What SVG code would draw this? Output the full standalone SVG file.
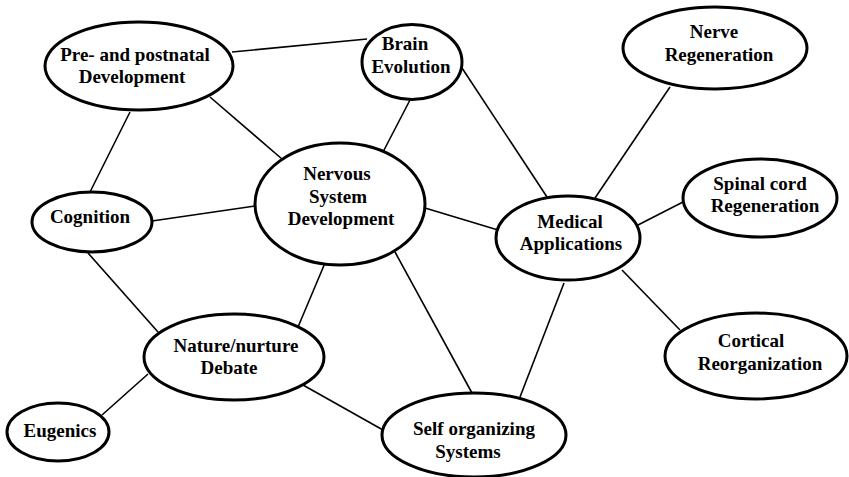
<svg xmlns="http://www.w3.org/2000/svg" width="849" height="477" viewBox="0 0 849 477">
<style>
.n ellipse{fill:#fff;stroke:#000;stroke-width:3}
.n text{font-family:"Liberation Serif","Times New Roman",serif;font-weight:bold;font-size:19px;fill:#000;text-anchor:middle}
#edges line{stroke:#000;stroke-width:1.6}
</style>
<rect width="849" height="477" fill="#fff"/>
<g id="edges">
<line x1="232" y1="52" x2="367" y2="39"/>
<line x1="210" y1="97" x2="282" y2="159"/>
<line x1="130" y1="112" x2="90" y2="192"/>
<line x1="410" y1="100" x2="383" y2="152"/>
<line x1="152" y1="221" x2="255" y2="206"/>
<line x1="462" y1="68" x2="547" y2="197"/>
<line x1="425" y1="208" x2="498" y2="230"/>
<line x1="670" y1="87" x2="595" y2="198"/>
<line x1="638" y1="225" x2="683" y2="202"/>
<line x1="622" y1="270" x2="680" y2="330"/>
<line x1="564" y1="283" x2="520" y2="397"/>
<line x1="88" y1="253" x2="158" y2="332"/>
<line x1="325" y1="263" x2="298" y2="327"/>
<line x1="395" y1="252" x2="472" y2="393"/>
<line x1="148" y1="374" x2="102" y2="415"/>
<line x1="303" y1="385" x2="383" y2="430"/>
</g>
<g id="pre" class="n"><ellipse cx="139" cy="66" rx="94" ry="44"/><text x="135" y="61">Pre- and postnatal</text><text x="132" y="83">Development</text></g>
<g id="brain" class="n"><ellipse cx="412" cy="62" rx="50" ry="37.5"/><text x="405" y="50">Brain</text><text x="411" y="73">Evolution</text></g>
<g id="nerve" class="n"><ellipse cx="715" cy="48" rx="92" ry="41"/><text x="714" y="38">Nerve</text><text x="719" y="61">Regeneration</text></g>
<g id="nsd" class="n"><ellipse cx="340" cy="204" rx="85" ry="61"/><text x="337" y="180">Nervous</text><text x="338" y="203">System</text><text x="341" y="225">Development</text></g>
<g id="cognition" class="n"><ellipse cx="92" cy="222" rx="60" ry="30"/><text x="90" y="223">Cognition</text></g>
<g id="medical" class="n"><ellipse cx="568" cy="238" rx="72" ry="42"/><text x="570" y="228">Medical</text><text x="571" y="250">Applications</text></g>
<g id="spinal" class="n"><ellipse cx="760" cy="198" rx="77" ry="39"/><text x="760" y="190">Spinal cord</text><text x="765" y="212">Regeneration</text></g>
<g id="cortical" class="n"><ellipse cx="756" cy="356" rx="91" ry="43"/><text x="751" y="347">Cortical</text><text x="760" y="370">Reorganization</text></g>
<g id="nature" class="n"><ellipse cx="234" cy="357" rx="90" ry="43"/><text x="236" y="352">Nature/nurture</text><text x="229" y="374">Debate</text></g>
<g id="eugenics" class="n"><ellipse cx="58" cy="432" rx="51" ry="29"/><text x="60" y="437">Eugenics</text></g>
<g id="self" class="n"><ellipse cx="474" cy="435" rx="92" ry="42"/><text x="474" y="435">Self organizing</text><text x="468" y="458">Systems</text></g>
</svg>
